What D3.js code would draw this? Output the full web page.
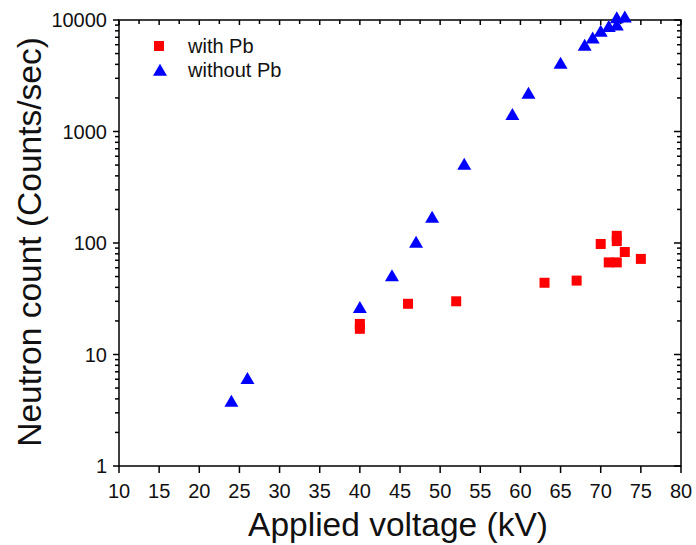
<!DOCTYPE html>
<html lang="en">
<head>
  <meta charset="UTF-8" />
  <title>Neutron count vs applied voltage</title>
  <script src="https://d3js.org/d3.v7.min.js"></script>
  <style>
    body {
      margin: 0;
      background: #fff;
      font-family: "Liberation Sans", Arial, Helvetica, sans-serif;
    }
    svg { display: block; }
    .tick-label { font-size: 20px; fill: #111; }
    .axis-title { font-size: 33.5px; fill: #111; }
    .legend-text { font-size: 20px; fill: #111; }
  </style>
</head>
<body>

<svg width="696" height="545"></svg>

<script>
  // with Pb (red squares)
  const withPbV = [40, 40, 46, 52, 63, 67, 70, 71, 72, 72, 72, 73, 75];
  const withPbN = [18.8, 17, 28.5, 30, 44, 46, 98, 67, 116, 104, 67, 83, 72];

  // without Pb (blue triangles)
  const noPbV = [24, 26, 40, 44, 47, 49, 53, 59, 61, 65, 68, 69, 70, 71, 72, 72, 73];
  const noPbN = [3.75, 6, 26, 50, 100, 168, 500, 1400, 2170, 4030, 5850, 6800, 7800, 8600, 8900, 10300, 10500];

  const xTicks = [10, 15, 20, 25, 30, 35, 40, 45, 50, 55, 60, 65, 70, 75, 80];
  const yTicks = [1, 10, 100, 1000, 10000];

  const svg = d3.select("svg");
  const margin = { left: 119, right: 15, top: 20, bottom: 79 };
  const W = 696, H = 545;

  const x = d3.scaleLinear().domain([10, 80]).range([margin.left, W - margin.right]);
  const y = d3.scaleLog().domain([1, 10000]).range([H - margin.bottom, margin.top]);

  const x0 = x.range()[0], x1 = x.range()[1];
  const y0 = y.range()[0], y1 = y.range()[1];

  // minor log ticks
  const minorY = [];
  for (let d = 1; d < 10000; d *= 10) {
    for (let k = 2; k <= 9; k++) minorY.push(d * k);
  }
  const topTicks = d3.range(10, 80.01, 2.5);

  const g = svg.append("g").attr("stroke", "#000").attr("stroke-width", 1.5);

  // frame
  g.append("rect")
    .attr("x", x0).attr("y", y1)
    .attr("width", x1 - x0).attr("height", y0 - y1)
    .attr("fill", "none");

  // bottom ticks (outward)
  g.selectAll("line.bt").data(xTicks).enter().append("line")
    .attr("x1", d => x(d)).attr("x2", d => x(d))
    .attr("y1", y0).attr("y2", y0 + 7);

  // top ticks (inward)
  g.selectAll("line.tt").data(topTicks).enter().append("line")
    .attr("x1", d => x(d)).attr("x2", d => x(d))
    .attr("y1", y1).attr("y2", d => y1 + (d % 5 === 0 ? 5 : 4));

  // left ticks (outward)
  g.selectAll("line.lt").data(yTicks).enter().append("line")
    .attr("x1", x0 - 6).attr("x2", x0)
    .attr("y1", d => y(d)).attr("y2", d => y(d));
  g.selectAll("line.lm").data(minorY).enter().append("line")
    .attr("x1", x0 - 4).attr("x2", x0)
    .attr("y1", d => y(d)).attr("y2", d => y(d));

  // right ticks (inward)
  g.selectAll("line.rt").data(yTicks).enter().append("line")
    .attr("x1", x1 - 7).attr("x2", x1)
    .attr("y1", d => y(d)).attr("y2", d => y(d));
  g.selectAll("line.rm").data(minorY).enter().append("line")
    .attr("x1", x1 - 4).attr("x2", x1)
    .attr("y1", d => y(d)).attr("y2", d => y(d));

  // tick labels
  svg.selectAll("text.xl").data(xTicks).enter().append("text")
    .attr("class", "tick-label")
    .attr("x", d => x(d)).attr("y", y0 + 32)
    .attr("text-anchor", "middle")
    .text(d => d);

  svg.selectAll("text.yl").data(yTicks).enter().append("text")
    .attr("class", "tick-label")
    .attr("x", x0 - 12).attr("y", d => y(d) + 7)
    .attr("text-anchor", "end")
    .text(d => d);

  // axis titles
  svg.append("text")
    .attr("class", "axis-title")
    .attr("x", (x0 + x1) / 2 - 2).attr("y", 536)
    .attr("text-anchor", "middle")
    .text("Applied voltage (kV)");

  svg.append("text")
    .attr("class", "axis-title")
    .attr("transform", `translate(41, ${(y0 + y1) / 2 - 1}) rotate(-90)`)
    .attr("text-anchor", "middle")
    .text("Neutron count (Counts/sec)");

  // markers
  const sq = 10;
  const triW = 14, triH = 12;
  const triPath = `M0,${-triH * 0.6}L${triW / 2},${triH * 0.4}L${-triW / 2},${triH * 0.4}Z`;

  svg.selectAll("rect.pb").data(withPbV).enter().append("rect")
    .attr("x", (d, i) => x(d) - sq / 2)
    .attr("y", (d, i) => y(withPbN[i]) - sq / 2)
    .attr("width", sq).attr("height", sq)
    .attr("fill", "#ff0000");

  svg.selectAll("path.nopb").data(noPbV).enter().append("path")
    .attr("d", triPath)
    .attr("transform", (d, i) => `translate(${x(d)},${y(noPbN[i])})`)
    .attr("fill", "#0000ff");

  // legend
  const leg = svg.append("g");
  leg.append("rect")
    .attr("x", 154).attr("y", 41).attr("width", sq).attr("height", sq)
    .attr("fill", "#ff0000");
  leg.append("text").attr("class", "legend-text")
    .attr("x", 188).attr("y", 53).text("with Pb");
  leg.append("path").attr("d", triPath)
    .attr("transform", "translate(160,71)")
    .attr("fill", "#0000ff");
  leg.append("text").attr("class", "legend-text")
    .attr("x", 188).attr("y", 77).text("without Pb");
</script>

</body>
</html>
